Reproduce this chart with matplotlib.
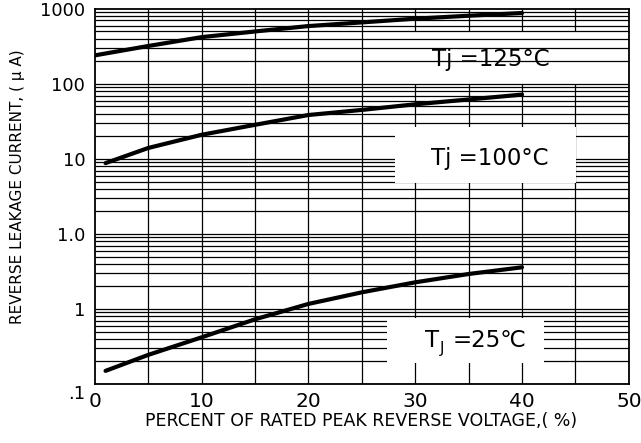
import matplotlib
matplotlib.use("Agg")
import matplotlib.pyplot as plt
from matplotlib.patches import Rectangle
from matplotlib.transforms import ScaledTranslation

# Curvas de corrente de fuga reversa (valores lidos no eixo log, 0.1 .. 1e4)
x_125 = [0, 5, 10, 15, 20, 25, 30, 35, 40]
y_125 = [2400, 3200, 4200, 5000, 5900, 6600, 7400, 8100, 8800]

x_100 = [1, 5, 10, 15, 20, 25, 30, 35, 40]
y_100 = [88, 140, 210, 285, 385, 450, 535, 620, 720]

x_25 = [1, 5, 10, 15, 20, 25, 30, 35, 40]
y_25 = [0.15, 0.245, 0.42, 0.73, 1.17, 1.67, 2.27, 2.93, 3.6]

# rotulos do eixo y como impressos no datasheet
y_ticks = [0.1, 1, 10, 100, 1000, 10000]
y_labels = ['.1', '1', '1.0', '10', '100', '1000']
x_ticks = [0, 10, 20, 30, 40, 50]

plt.rcParams['font.family'] = ['DejaVu Sans', 'Noto Sans CJK SC']

fig = plt.figure(figsize=(6.41, 4.43), dpi=100)
ax = fig.add_axes([0.148, 0.133, 0.833, 0.847])
ax.set_yscale('log')
ax.set_xlim(0, 50)
ax.set_ylim(0.1, 10000)

# grade manual
for xv in range(5, 50, 5):
    ax.vlines(xv, 0.1, 10000, color='black', lw=0.9, zorder=1)
ax.add_patch(Rectangle((25.4, 1000), 24.6, 4000, facecolor='white',
                       edgecolor='none', zorder=1.5))
for dec in [0.1, 1, 10, 100, 1000]:
    for m in range(1, 10):
        ax.hlines(m * dec, 0, 50, color='black', lw=0.9, zorder=2)

# caixas brancas dos rotulos
ax.add_patch(Rectangle((28.1, 48), 17.0, 222, facecolor='white',
                       edgecolor='none', zorder=3))
ax.add_patch(Rectangle((27.4, 0.19), 14.7, 0.57, facecolor='white',
                       edgecolor='none', zorder=3))

ax.plot(x_125, y_125, color='black', lw=3, solid_capstyle='round', zorder=4)
ax.plot(x_100, y_100, color='black', lw=3, solid_capstyle='round', zorder=4)
ax.plot(x_25, y_25, color='black', lw=3, solid_capstyle='round', zorder=4)

ax.text(37.1, 2100, 'Tj =125°C', fontsize=16.5, ha='center', va='center', zorder=5)
ax.text(37.0, 100, 'Tj =100°C', fontsize=16.5, ha='center', va='center', zorder=5)
# T com subscrito J + "=25℃"
ax.annotate('T', (30.9, 0.38), xytext=(0, 0), textcoords='offset points',
            fontsize=16.5, ha='left', va='center', zorder=5)
ax.annotate('J', (30.9, 0.38), xytext=(11, -6), textcoords='offset points',
            fontsize=11, ha='left', va='center', zorder=5)
ax.annotate('=25℃', (30.9, 0.38), xytext=(20, 0), textcoords='offset points',
            fontsize=16.5, ha='left', va='center', zorder=5)

ax.set_xticks(x_ticks)
ax.set_xticklabels([str(v) for v in x_ticks], fontsize=14.5)
ax.set_yticks(y_ticks)
ax.set_yticklabels(y_labels, fontsize=13)
ax.yaxis.set_minor_locator(matplotlib.ticker.NullLocator())
ax.tick_params(axis='both', length=0)
ax.tick_params(axis='x', pad=6)
ax.tick_params(axis='y', pad=7)
lbl = ax.get_yticklabels()[0]
lbl.set_transform(lbl.get_transform() + ScaledTranslation(0, -6 / 72, fig.dpi_scale_trans))

for s in ax.spines.values():
    s.set_linewidth(1.3)
    s.set_zorder(6)

fig.text(0.563, 0.05, 'PERCENT OF RATED PEAK REVERSE VOLTAGE,( %)',
         fontsize=12.5, ha='center', va='center')
fig.text(0.028, 0.578, 'REVERSE LEAKAGE CURRENT, ( μ A)', fontsize=11,
         rotation=90, ha='center', va='center')

fig.savefig('out.png', dpi=100)
